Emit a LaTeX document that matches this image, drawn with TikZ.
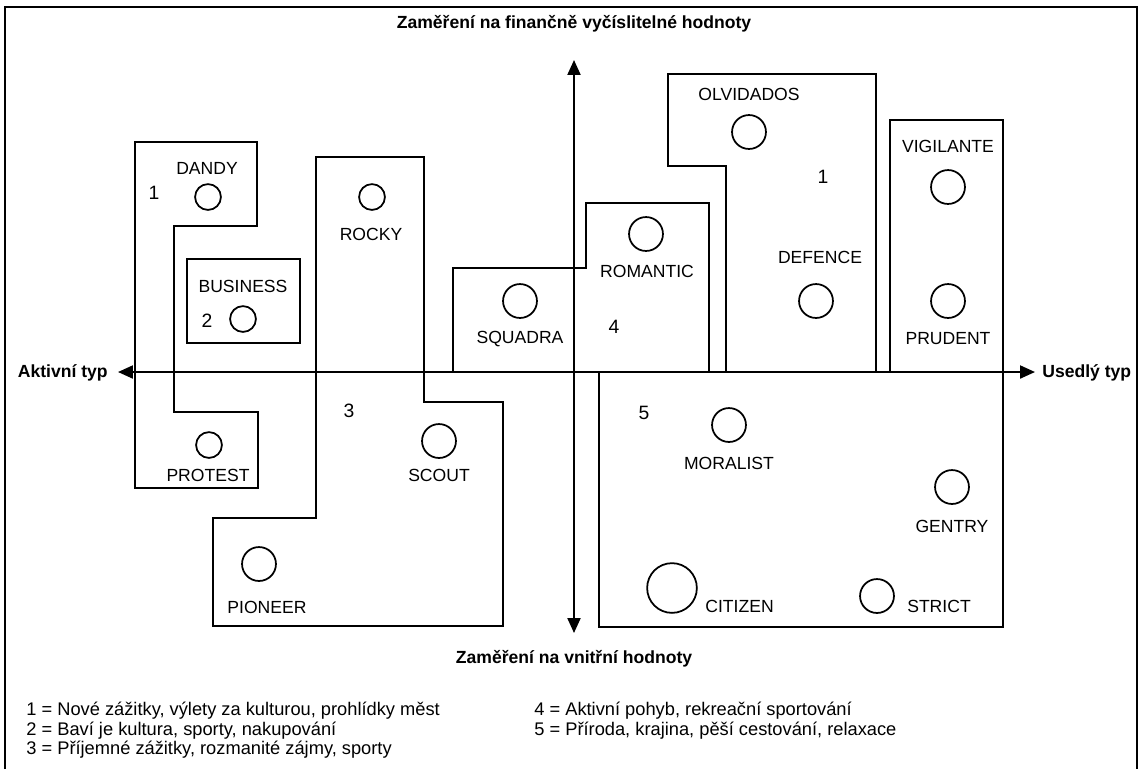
\documentclass[tikz,border=0pt]{standalone}
\usepackage{fontspec}
\setmainfont{Liberation Sans}
\usetikzlibrary{arrows.meta}

\begin{document}
\begin{tikzpicture}[x=0.02cm,y=-0.02cm,
	zona/.style={line width=1pt,line join=miter},
	typ/.style={circle,draw,line width=1pt,inner sep=0pt,minimum size=#1},
	typ/.default=19.3pt,
	popis/.style={font=\fontsize{10}{12}\selectfont,inner sep=0pt},
	cislo/.style={font=\fontsize{11}{13}\selectfont,inner sep=0pt},
	osa/.style={line width=1.1pt,{Triangle[length=8.5pt,width=7.4pt]}-{Triangle[length=8.5pt,width=7.4pt]}},
	osapopis/.style={font=\bfseries\fontsize{10}{12}\selectfont,inner sep=0pt},
	legenda/.style={font=\fontsize{10.4}{12}\selectfont,inner sep=0pt,anchor=base west}]
	%
	% Rozmery obrazku
	\def\obrW{1139}
	\def\obrH{769}
	\def\osaX{574}
	\def\osaY{372}
	\useasboundingbox (0,0) rectangle (\obrW,\obrH);
	%
	% Ramecek
	\draw[line width=0.6pt] (5,\obrH) -- (5,7) -- (1137,7) -- (1137,\obrH);
	%
	% Zona 1 vlevo
	\draw[zona] (135,142) -- (257,142) -- (257,226) -- (174,226) -- (174,412) -- (258,412) -- (258,488) -- (135,488) -- cycle;
	\node[popis] (dandy) at (207,168) {DANDY};
	\node[typ=14.7pt] (dandyK) at (208,197) {};
	\node[cislo] (c1a) at (154,193) {1};
	\node[typ=14.7pt] (protestK) at (209,445) {};
	\node[popis] (protest) at (208,475) {PROTEST};
	%
	% Zona 2
	\draw[zona] (187,259) rectangle (300,343);
	\node[popis] (business) at (243,286) {BUSINESS};
	\node[cislo] (c2) at (207,321) {2};
	\node[typ=14.7pt] (businessK) at (243,319) {};
	%
	% Zona 3
	\draw[zona] (316,157) -- (424,157) -- (424,402) -- (503,402) -- (503,626) -- (213,626) -- (213,518) -- (316,518) -- cycle;
	\node[typ=14.7pt] (rockyK) at (372,197) {};
	\node[popis] (rocky) at (371,234) {ROCKY};
	\node[cislo] (c3) at (349,411) {3};
	\node[typ] (scoutK) at (439,441) {};
	\node[popis] (scout) at (439,475) {SCOUT};
	\node[typ] (pioneerK) at (259,564) {};
	\node[popis] (pioneer) at (267,607) {PIONEER};
	%
	% Zona 4
	\draw[zona] (453,\osaY) -- (453,268) -- (586,268) -- (586,203) -- (709,203) -- (709,\osaY) -- cycle;
	\node[typ] (squadraK) at (520,301) {};
	\node[popis] (squadra) at (520,339) {SQUADRA};
	\node[typ] (romanticK) at (646,234) {};
	\node[popis] (romantic) at (647,271) {ROMANTIC};
	\node[cislo] (c4) at (614,327) {4};
	%
	% Zona 1 vpravo
	\draw[zona] (668,74) -- (876,74) -- (876,\osaY) -- (726,\osaY) -- (726,166) -- (668,166) -- cycle;
	\node[popis] (olvidados) at (749,94) {OLVIDADOS};
	\node[typ] (olvidadosK) at (749,132) {};
	\node[cislo] (c1b) at (823,177) {1};
	\node[popis] (defence) at (820,257) {DEFENCE};
	\node[typ] (defenceK) at (816,301) {};
	\draw[zona] (890,120) rectangle (1003,\osaY);
	\node[popis] (vigilante) at (948,146) {VIGILANTE};
	\node[typ] (vigilanteK) at (948,187) {};
	\node[typ] (prudentK) at (948,301) {};
	\node[popis] (prudent) at (948,339) {PRUDENT};
	%
	% Zona 5
	\draw[zona] (599,\osaY) rectangle (1003,627);
	\node[cislo] (c5) at (644,413) {5};
	\node[typ] (moralistK) at (729,425) {};
	\node[popis] (moralist) at (729,463) {MORALIST};
	\node[typ] (gentryK) at (952,487) {};
	\node[popis] (gentry) at (952,526) {GENTRY};
	\node[typ=28.3pt] (citizenK) at (672,588) {};
	\node[popis,anchor=west] (citizen) at (705,606) {CITIZEN};
	\node[typ] (strictK) at (877,596) {};
	\node[popis] (strict) at (939,606) {STRICT};
	%
	% Osy
	\coordinate (osaW) at (118,\osaY);
	\coordinate (osaE) at (1035,\osaY);
	\coordinate (osaN) at (\osaX,60);
	\coordinate (osaS) at (\osaX,633);
	\draw[osa] (osaW) -- (osaE);
	\draw[osa] (osaS) -- (osaN);
	\node[osapopis,anchor=base east] (aktivni) at (108,377) {Aktivní typ};
	\node[osapopis,anchor=base west] (usedly) at (1042,377) {Usedlý typ};
	\node[osapopis,anchor=base] (financni) at (\osaX,28) {Zaměření na finančně vyčíslitelné hodnoty};
	\node[osapopis,anchor=base] (vnitrni) at (\osaX,663) {Zaměření na vnitřní hodnoty};
	%
	% Legenda
	\node[legenda] (leg1) at (26,715) {1 = Nové zážitky, výlety za kulturou, prohlídky měst};
	\node[legenda] (leg2) at (26,735) {2 = Baví je kultura, sporty, nakupování};
	\node[legenda] (leg3) at (26,754) {3 = Příjemné zážitky, rozmanité zájmy, sporty};
	\node[legenda] (leg4) at (534,715) {4 = Aktivní pohyb, rekreační sportování};
	\node[legenda] (leg5) at (534,735) {5 = Příroda, krajina, pěší cestování, relaxace};
\end{tikzpicture}
\end{document}
